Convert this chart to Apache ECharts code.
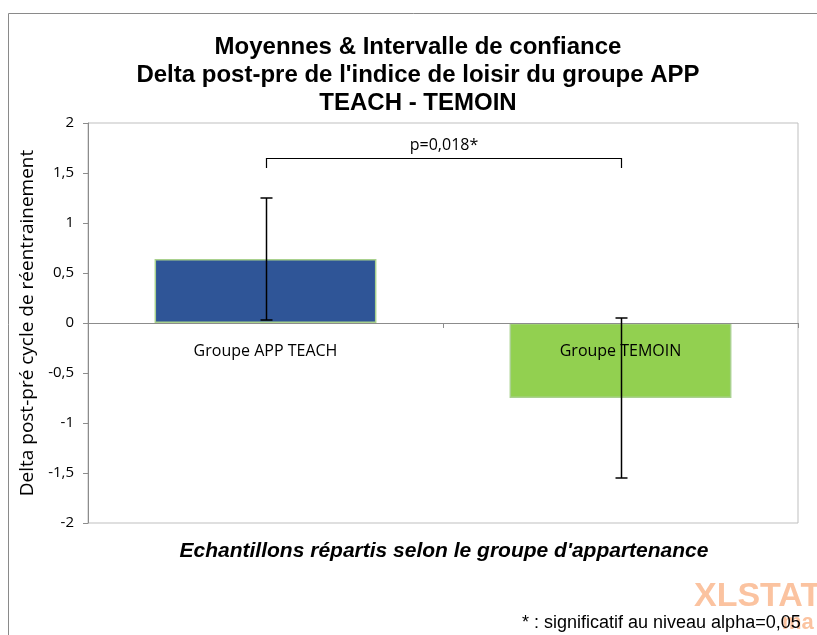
<!DOCTYPE html>
<html>
<head>
<meta charset="utf-8">
<script src="https://cdn.jsdelivr.net/npm/echarts@6/dist/echarts.min.js"></script>
<style>
  html, body { margin: 0; padding: 0; background: #fff; }
  #chart { width: 817px; height: 635px; }
</style>
</head>
<body>
<div id="chart"></div>
<script>
// donnees
const categories = ['Groupe APP TEACH', 'Groupe TEMOIN'];
const means = [0.64, -0.75];
const ciLow = [0.03, -1.55];
const ciHigh = [1.25, 0.05];
const barColors = ['#2f5597', '#92d050'];
const titleLines = ['Moyennes & Intervalle de confiance', "Delta post-pre de l'indice de loisir du groupe APP", 'TEACH - TEMOIN'];
// crochet de significativite
const bracket = [{ from: 0, to: 1, top: 1.65, drop: 1.55, label: 'p=0,018*' }];

let myChart = echarts.init(document.getElementById('chart'));

// centres verticaux des lignes du titre
let titleCenters = [47.5, 75, 103];

let option = {
    animation: false,
    graphic: [
        {
            type: 'rect',
            shape: { x: 8.5, y: 13.5, width: 900, height: 700 },
            style: { fill: 'none', stroke: '#8a8a8a', lineWidth: 1 },
            silent: true
        },
        {
            type: 'text',
            x: 694,
            y: 597,
            style: { text: 'XLSTAT', font: 'bold 34px Liberation Sans', fill: '#fbc3a0', verticalAlign: 'middle' },
            silent: true
        },
        {
            type: 'text',
            x: 782,
            y: 623,
            style: { text: 'ma', font: 'bold 22px Liberation Sans', fill: '#fbc3a0', verticalAlign: 'middle' },
            silent: true
        },
        {
            type: 'text',
            x: 522,
            y: 623,
            style: { text: '* : significatif au niveau alpha=0,05', font: '18px Liberation Sans', fill: '#000', verticalAlign: 'middle' },
            silent: true
        },
        {
            type: 'text',
            x: 444,
            y: 551,
            style: {
                text: "Echantillons répartis selon le groupe d'appartenance",
                font: 'italic bold 21px Liberation Sans',
                fill: '#000',
                align: 'center',
                verticalAlign: 'middle'
            },
            silent: true
        }
    ].concat(titleLines.map(function (t, i) {
        return {
            type: 'text',
            x: 418,
            y: titleCenters[i],
            style: { text: t, font: 'bold 24px Liberation Sans', fill: '#000', align: 'center', verticalAlign: 'middle' },
            silent: true
        };
    })),
    grid: {
        left: 88,
        top: 123,
        right: 19,
        bottom: 112,
        show: true,
        borderColor: '#bfbfbf',
        borderWidth: 1
    },
    xAxis: {
        type: 'category',
        data: categories,
        z: 5,
        axisLine: { onZero: true, lineStyle: { color: '#8c8c8c' } },
        axisTick: { show: true, length: 5, lineStyle: { color: '#8c8c8c' } },
        axisLabel: { show: false },
        splitLine: { show: false }
    },
    yAxis: {
        type: 'value',
        min: -2,
        max: 2,
        interval: 0.5,
        name: 'Delta post-pré cycle de réentrainement',
        nameLocation: 'middle',
        nameGap: 45,
        nameTextStyle: { fontFamily: 'Open Sans', fontSize: 19, color: '#000' },
        axisLine: { show: true, lineStyle: { color: '#8c8c8c' } },
        axisTick: { show: true, length: 5, lineStyle: { color: '#8c8c8c' } },
        axisLabel: {
            margin: 14,
            fontFamily: 'Open Sans',
            fontSize: 15,
            color: '#000',
            formatter: function (v) { return String(v).replace('.', ','); }
        },
        splitLine: { show: false }
    },
    series: [
        {
            type: 'bar',
            barWidth: '62.5%',
            data: means.map(function (v, i) {
                return {
                    value: v,
                    itemStyle: { color: barColors[i], borderColor: '#a9d18e', borderWidth: 1.5 }
                };
            })
        },
        {
            // libelles des categories poses sous la ligne du zero, par-dessus les barres
            type: 'custom',
            z: 8,
            data: categories.map(function (c, i) { return [i, 0]; }),
            renderItem: function (params, api) {
                let p = api.coord([api.value(0), api.value(1)]);
                return {
                    type: 'text',
                    x: p[0],
                    y: p[1] + 28,
                    style: {
                        text: categories[params.dataIndex],
                        align: 'center',
                        verticalAlign: 'middle',
                        font: '16px Open Sans',
                        fill: '#000'
                    }
                };
            }
        },
        {
            type: 'custom',
            z: 10,
            data: categories.map(function (c, i) { return [i, ciLow[i], ciHigh[i]]; }),
            renderItem: function (params, api) {
                let lo = api.coord([api.value(0), api.value(1)]);
                let hi = api.coord([api.value(0), api.value(2)]);
                let x = Math.round(lo[0]) + 0.5;
                let cap = 6;
                let st = { stroke: '#000', lineWidth: 1.5 };
                return {
                    type: 'group',
                    children: [
                        { type: 'line', shape: { x1: x, y1: hi[1], x2: x, y2: lo[1] }, style: st },
                        { type: 'line', shape: { x1: x - cap, y1: hi[1], x2: x + cap, y2: hi[1] }, style: st },
                        { type: 'line', shape: { x1: x - cap, y1: lo[1], x2: x + cap, y2: lo[1] }, style: st }
                    ]
                };
            }
        },
        {
            type: 'custom',
            z: 10,
            data: bracket.map(function (b) { return [b.from, b.to, b.top, b.drop]; }),
            renderItem: function (params, api) {
                let a = api.coord([api.value(0), api.value(2)]);
                let b = api.coord([api.value(1), api.value(2)]);
                let d = api.coord([api.value(0), api.value(3)]);
                let xa = Math.round(a[0]) + 0.5, xb = Math.round(b[0]) + 0.5, yt = Math.round(a[1]) + 0.5;
                let st = { stroke: '#000', lineWidth: 1.2, fill: 'none' };
                return {
                    type: 'group',
                    children: [
                        { type: 'polyline', shape: { points: [[xa, d[1]], [xa, yt], [xb, yt], [xb, d[1]]] }, style: st },
                        {
                            type: 'text',
                            x: (xa + xb) / 2,
                            y: yt - 5,
                            style: {
                                text: bracket[params.dataIndex].label,
                                align: 'center',
                                verticalAlign: 'bottom',
                                font: '16px Open Sans',
                                fill: '#000'
                            }
                        }
                    ]
                };
            }
        }
    ]
};

myChart.setOption(option);
</script>
</body>
</html>
